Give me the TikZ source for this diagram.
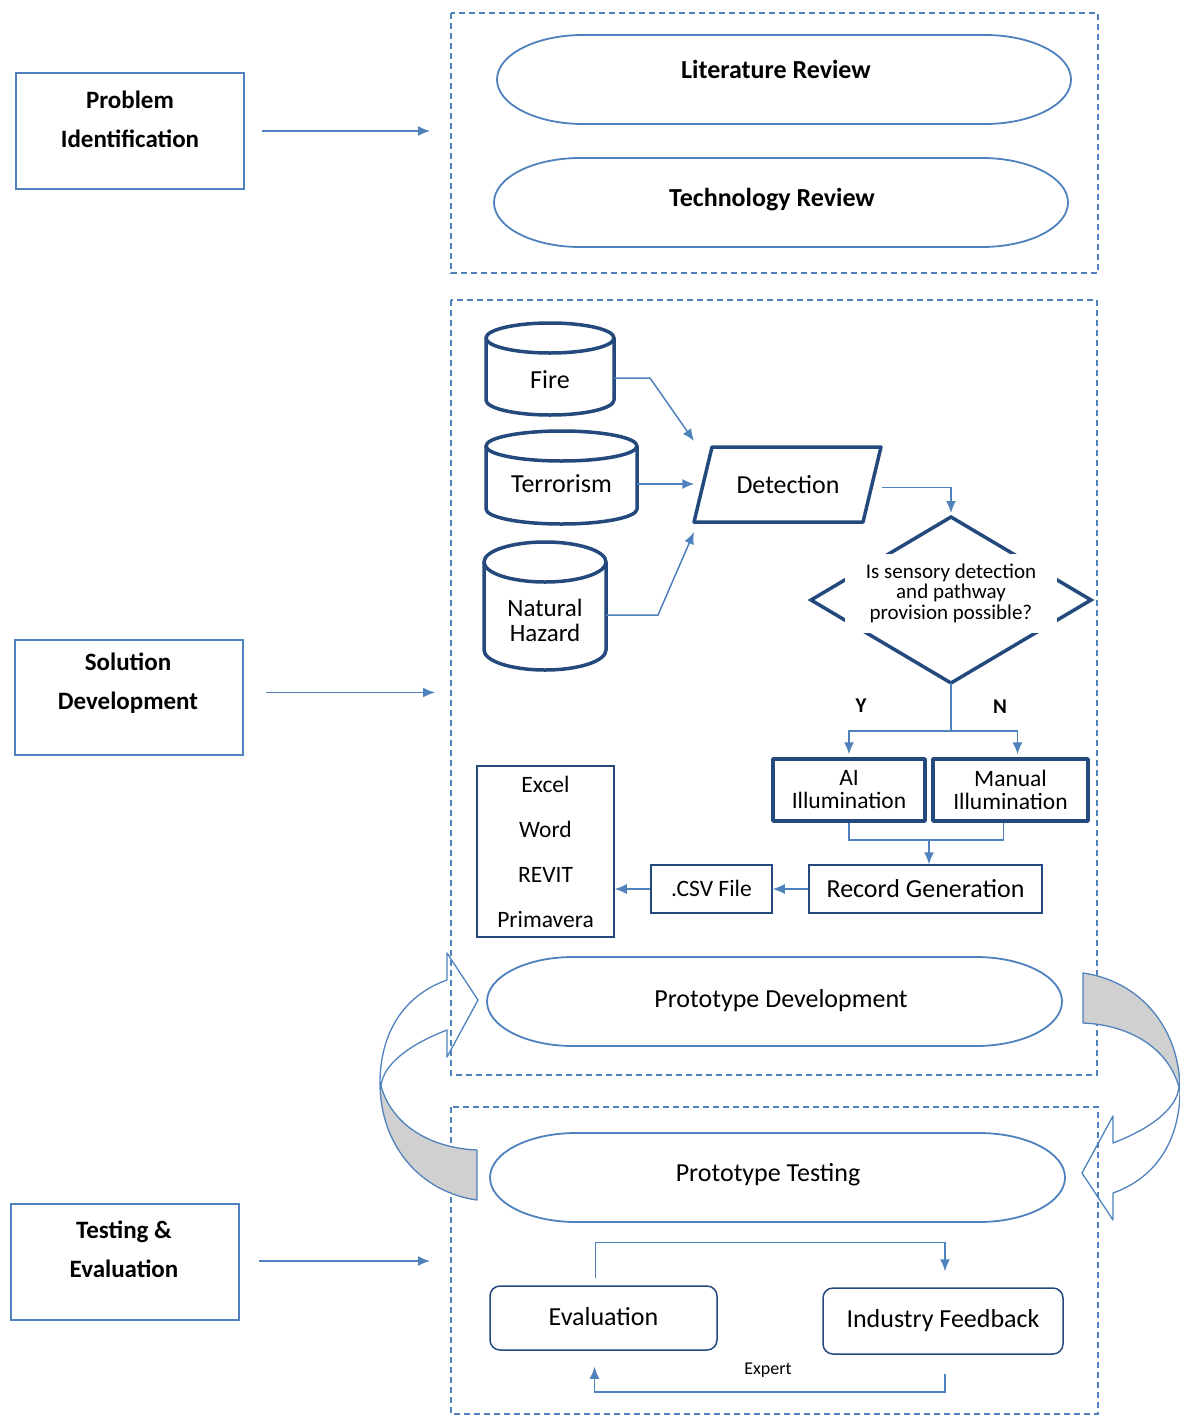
\documentclass[tikz,border=0pt]{standalone}
\usepackage{fontspec}
\setmainfont{Carlito}
\usetikzlibrary{arrows.meta,calc}

\definecolor{lineblue}{RGB}{79,129,189}
\definecolor{deepblue}{RGB}{36,74,125}
\definecolor{bandgray}{RGB}{208,208,208}

\tikzset{
  frame/.style={draw=lineblue, line width=1.3, dash pattern=on 6pt off 4pt},
  stage/.style={draw=lineblue, line width=1.6, minimum width=228, minimum height=116},
  stagetext/.style={font=\fontsize{25}{39}\selectfont\bfseries, align=center},
  flow/.style={draw=lineblue, line width=1.5, -{Latex[length=12pt,width=10pt]}},
  link/.style={draw=lineblue, line width=1.5},
  heavy/.style={draw=deepblue, line width=3.5, line join=round},
  thinbox/.style={draw=deepblue, line width=1.5},
  pill/.style={draw=lineblue, line width=1.8},
  band/.style={draw=lineblue, line width=1.3, line join=round},
  txt/.style={font=\fontsize{26}{28}\selectfont, align=center},
  smalltxt/.style={font=\fontsize{23.5}{23}\selectfont, align=center}
}

% x1,y1,x2,y2,style
\newcommand{\capsule}[5]{%
  \pgfmathsetmacro{\ry}{(#4-#2)/2}
  \draw[#5] (#1+86,#2) -- (#3-86,#2)
    arc[start angle=-90,end angle=90,x radius=86,y radius=\ry]
    -- (#1+86,#4)
    arc[start angle=90,end angle=270,x radius=86,y radius=\ry] -- cycle;
}
% x1,y1,x2,y2,cap radius
\newcommand{\drum}[5]{%
  \pgfmathsetmacro{\rx}{(#3-#1)/2}
  \draw[heavy] (#1,#2+#5) -- (#1,#4-#5)
    arc[start angle=180,end angle=0,x radius=\rx,y radius=#5] -- (#3,#2+#5);
  \draw[heavy] ({(#1+#3)/2},#2+#5) ellipse[x radius=\rx,y radius=#5];
}
% the curved block arrow on the left
\newcommand{\loopband}{%
  \fill[bandgray] (380,1083) .. controls (380,1145) and (420,1192) .. (477,1200)
    -- (477,1150) .. controls (430,1148) and (392,1125) .. (381,1086) -- cycle;
  \draw[band] (447,980) .. controls (402,996) and (380,1035) .. (380,1083)
    .. controls (380,1145) and (420,1192) .. (477,1200) -- (477,1150)
    .. controls (430,1148) and (392,1125) .. (381,1086)
    .. controls (383,1065) and (408,1045) .. (447,1030)
    -- (447,1057) -- (478,1000) -- (447,953) -- cycle;
}

\begin{document}
\begin{tikzpicture}[x=1pt,y=-1pt]
  \useasboundingbox (0,0) rectangle (1179,1416);

  % phase frames
  \draw[frame] (451,13) rectangle (1098,273);
  \draw[frame] (451,300) rectangle (1097,1075);
  \draw[frame] (451,1107) rectangle (1098,1414);

  % stages on the left
  \node[stage] (probbox) at (130,131) {};
  \node[stagetext] at (130,119) {Problem\\Identification};
  \node[stage, minimum height=115] (solbox) at (129,697.5) {};
  \node[stagetext] at (128,683) {Solution\\Development};
  \node[stage] (testbox) at (125,1262) {};
  \node[stagetext] at (124,1249) {Testing \&\\Evaluation};

  \coordinate (in1) at (430,131);
  \coordinate (in2) at (435,692.5);
  \coordinate (in3) at (430,1261);
  \draw[flow] ([xshift=17]probbox.east) -- (in1);
  \draw[flow] ([xshift=22,yshift=5]solbox.east) -- (in2);
  \draw[flow] ([xshift=19,yshift=1]testbox.east) -- (in3);

  % reviews
  \capsule{497}{35}{1071}{124}{pill}
  \node[txt, font=\fontsize{26}{28}\selectfont\bfseries] (litrev) at (776,69) {Literature Review};
  \capsule{494}{158}{1068}{247}{pill}
  \node[txt, font=\fontsize{26}{28}\selectfont\bfseries] (techrev) at (772,200) {Technology Review};

  % hazards
  \drum{486}{323}{614}{415}{15}
  \node[txt, minimum width=128] (fire) at (550,380) {Fire};
  \drum{486}{431}{637}{524}{15}
  \node[txt, minimum width=151] (terror) at (561.5,484) {\raisebox{-9pt}{Terrorism}};
  \drum{484}{542}{606}{670}{20}
  \node[txt, minimum width=122, font=\fontsize{25}{25}\selectfont] (nature) at (545,620) {Natural\\Hazard};

  % detection
  \draw[heavy] (712,447) -- (881,447) -- (863,522) -- (694,522) -- cycle;
  \node[txt, minimum width=187, minimum height=75] (detect) at (788,484.5) {Detection};
  \coordinate (detin1) at (694,441);
  \coordinate (detin3) at (694,532);
  \draw[flow] ([yshift=2]fire.east) -- (650,378) -- (detin1);
  \draw[flow] (terror.east) -- (terror.east -| detect.west);
  \draw[flow] ([yshift=5]nature.east) -- (658,615) -- (detin3);

  % decision
  \coordinate (qtop) at (951,513);
  \coordinate (qbot) at (951,683);
  \draw[heavy, line join=miter] (951,517) -- (1091,600) -- (951,683) -- (811,600) -- cycle;
  \node[fill=white, minimum width=212, minimum height=79, inner sep=1pt, font=\fontsize{21}{20.5}\selectfont, align=center]
    (query) at (951,593) {Is sensory detection\\and pathway\\provision possible?};
  \draw[flow] ([yshift=-3]detect.east) -| (qtop);

  % illumination
  \node[heavy, minimum width=152, minimum height=62, smalltxt, inner sep=0] (aibox) at (849,790) {AI\\Illumination};
  \node[heavy, minimum width=155, minimum height=62, smalltxt, inner sep=0] (manbox) at (1010.5,790) {Manual\\Illumination};
  \coordinate (split) at (951,731);
  \draw[link] (qbot) -- (split);
  \draw[flow] (split) -| ([yshift=3]aibox.north);
  \draw[flow] (split) -| ([xshift=7,yshift=3]manbox.north);
  \node[font=\fontsize{21}{23}\selectfont\bfseries] at (861,706) {Y};
  \node[font=\fontsize{21}{23}\selectfont\bfseries] at (1000,707) {N};

  % records
  \node[thinbox, minimum width=233, minimum height=48, txt] (recgen) at (925.5,889) {Record Generation};
  \node[thinbox, minimum width=121, minimum height=48, smalltxt] (csv) at (711.5,889) {\raisebox{2pt}{.CSV File}};
  \node[thinbox, minimum width=137, minimum height=171, font=\fontsize{23.5}{45}\selectfont, align=center]
    (apps) at (545.5,851.5) {Excel\\Word\\REVIT\\Primavera};
  \coordinate (merge) at (929,840);
  \draw[link] (aibox.south) |- (merge) -| ([xshift=-7]manbox.south);
  \draw[flow] (merge) -- (merge |- recgen.north);
  \draw[flow] (recgen.west) -- (csv.east);
  \draw[flow] (csv.west) -- (csv.west -| apps.east);

  % prototype cycle
  \capsule{487}{957}{1062}{1046}{pill}
  \node[txt] (protodev) at (781,1001) {Prototype Development};
  \capsule{490}{1133}{1065}{1222}{pill}
  \node[txt] (prototest) at (768,1175) {Prototype Testing};
  \loopband
  \begin{scope}[rotate around={180:(780,1086.5)}]
    \loopband
  \end{scope}

  % testing loop
  \node[thinbox, rounded corners=10, minimum width=227, minimum height=64, txt] (evalbox) at (603.5,1318) {\raisebox{3pt}{Evaluation}};
  \node[thinbox, rounded corners=10, minimum width=240, minimum height=66, txt] (feedbox) at (943,1321) {Industry Feedback};
  \draw[flow] ([xshift=-8,yshift=7]evalbox.north) -- ++(0,-36) -| ([xshift=2,yshift=16]feedbox.north);
  \draw[flow] ([xshift=2,yshift=-19]feedbox.south) -- ++(0,18) -| ([xshift=-9,yshift=-16]evalbox.south);
  \node[font=\fontsize{18}{20}\selectfont] at (768,1370) {Expert};
\end{tikzpicture}
\end{document}
